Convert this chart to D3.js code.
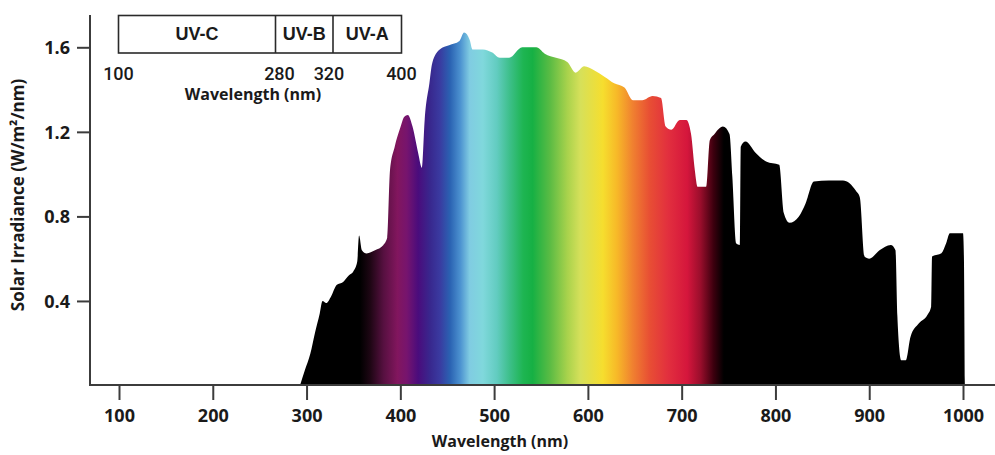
<!DOCTYPE html>
<html>
<head>
<meta charset="utf-8">
<script src="https://cdn.jsdelivr.net/npm/d3@7/dist/d3.min.js"></script>
<style>
  html, body { margin: 0; padding: 0; background: #fff; }
  svg { display: block; }
  .lbl { font-family: "Open Sans", "DejaVu Sans", sans-serif; font-weight: 700; fill: #1a1a1a; }
  .box { font-family: "Liberation Sans", Arial, sans-serif; fill: #1a1a1a; }
  .num { font-family: Roboto, "Liberation Sans", Arial, sans-serif; fill: #1a1a1a; }
</style>
</head>
<body>
<svg id="chart" width="995" height="455"></svg>
<script>
// Solar spectral irradiance at sea level (W/m²/nm) by wavelength (nm)
const wavelengths = [
  293, 298, 304, 309, 314, 317, 321, 326, 332, 339, 345, 350, 354, 356, 359, 364,
  373, 382, 386, 389, 394, 400, 404, 408, 413, 419, 423, 426, 431, 434, 442, 452,
  463, 468, 474, 477, 488, 498, 506, 516, 530, 545, 554, 566, 578, 587, 596, 607,
  618, 628, 639, 648, 658, 669, 678, 683, 689, 698, 705, 710, 714, 717, 726, 730,
  735, 744, 751, 754, 758, 762, 763, 768, 779, 790, 804, 809, 815, 825, 832, 841,
  857, 872, 886, 890, 895, 900, 911, 923, 928, 930, 934, 939, 944, 953, 962, 966,
  967, 977, 982, 986, 1000, 1001, 1002
];
const irradiance = [
  0.00, 0.07, 0.15, 0.25, 0.34, 0.40, 0.39, 0.42, 0.475, 0.49, 0.52, 0.54, 0.585, 0.71, 0.64, 0.625,
  0.64, 0.665, 0.70, 1.02, 1.13, 1.22, 1.27, 1.28, 1.225, 1.10, 1.03, 1.26, 1.43, 1.525, 1.59, 1.61,
  1.63, 1.67, 1.635, 1.59, 1.59, 1.575, 1.55, 1.55, 1.60, 1.60, 1.57, 1.55, 1.53, 1.48, 1.51, 1.49,
  1.46, 1.43, 1.41, 1.35, 1.35, 1.37, 1.36, 1.225, 1.21, 1.256, 1.256, 1.19, 1.02, 0.94, 0.94, 1.16,
  1.19, 1.225, 1.19, 0.99, 0.673, 0.665, 1.13, 1.154, 1.10, 1.06, 1.044, 0.815, 0.77, 0.80, 0.86, 0.965,
  0.97, 0.97, 0.92, 0.89, 0.61, 0.60, 0.64, 0.665, 0.64, 0.33, 0.12, 0.12, 0.23, 0.294, 0.334, 0.373,
  0.61, 0.626, 0.673, 0.72, 0.72, 0.60, 0.00
];

// Axis ticks
const xTicks = [100, 200, 300, 400, 500, 600, 700, 800, 900, 1000];
const yTicks = [0.4, 0.8, 1.2, 1.6];

// UV band inset
const bandNames = ["UV-C", "UV-B", "UV-A"];
const bandEdges = [100, 280, 320, 400];

// Visible-spectrum colour ramp (wavelength nm -> colour)
const rampNm = [357, 368, 382, 397, 407, 419, 432, 442, 453, 464, 474, 488, 503, 517, 531, 541,
                560, 578, 592, 616, 631, 648, 666, 685, 706, 720, 734, 745];
const rampColor = ["#000000", "#1e0614", "#561040", "#82165e", "#76146e", "#4a0c7c", "#38288e", "#3a3aa0",
                   "#2a62b2", "#4c92d0", "#80cce2", "#80d8dc", "#62ccc0", "#3cbf88", "#1eb552", "#16b044",
                   "#5cbc44", "#a8d24c", "#d6e05a", "#f6de2e", "#f7b928", "#f08030", "#e84e34", "#e2303e",
                   "#d5163c", "#9a0e2c", "#3c000e", "#000000"];

const svg = d3.select("#chart");
const W = 995, H = 455;
svg.append("rect").attr("width", W).attr("height", H).attr("fill", "#fff");

const x = d3.scaleLinear().domain([100, 1000]).range([119, 963]);
const y = d3.scaleLinear().domain([0, 1.6]).range([385.5, 47.3]);
const axisX = 90, axisY = 385;
const axisColor = "#3c3c3c";

// gradient running along the wavelength axis
const defs = svg.append("defs");
const grad = defs.append("linearGradient")
  .attr("id", "spectrum")
  .attr("gradientUnits", "userSpaceOnUse")
  .attr("x1", x(rampNm[0])).attr("x2", x(rampNm[rampNm.length - 1]))
  .attr("y1", 0).attr("y2", 0);
const span = rampNm[rampNm.length - 1] - rampNm[0];
grad.selectAll("stop")
  .data(rampNm)
  .join("stop")
  .attr("offset", d => (d - rampNm[0]) / span)
  .attr("stop-color", (d, i) => rampColor[i]);

const series = wavelengths.map((nm, i) => ({ nm, v: irradiance[i] }));
const area = d3.area()
  .x(d => x(d.nm))
  .y0(y(0))
  .y1(d => y(d.v))
  .curve(d3.curveMonotoneX);

svg.append("path")
  .datum(series)
  .attr("d", area)
  .attr("fill", "url(#spectrum)");

// x axis
const gx = svg.append("g").attr("transform", `translate(0,${axisY})`);
gx.call(d3.axisBottom(x).tickValues(xTicks).tickSize(15).tickSizeOuter(0).tickFormat(d3.format("d")));
gx.select(".domain").remove();
gx.selectAll(".tick line").attr("stroke", axisColor).attr("stroke-width", 2);
gx.selectAll(".tick text")
  .attr("class", "lbl")
  .attr("font-size", 18)
  .attr("y", 37)
  .attr("dy", 0);
svg.append("line")
  .attr("x1", axisX).attr("x2", W)
  .attr("y1", axisY).attr("y2", axisY)
  .attr("stroke", axisColor).attr("stroke-width", 2);

// y axis
const gy = svg.append("g").attr("transform", `translate(${axisX},0)`);
gy.call(d3.axisLeft(y).tickValues(yTicks).tickSize(13).tickSizeOuter(0).tickFormat(d3.format(".1f")));
gy.select(".domain").remove();
gy.selectAll(".tick line").attr("stroke", axisColor).attr("stroke-width", 2);
gy.selectAll(".tick text")
  .attr("class", "lbl")
  .attr("font-size", 18)
  .attr("x", -20)
  .attr("dy", "0.36em");
svg.append("line")
  .attr("x1", axisX).attr("x2", axisX)
  .attr("y1", 15).attr("y2", axisY + 1)
  .attr("stroke", axisColor).attr("stroke-width", 2);

// axis titles
svg.append("text")
  .attr("class", "lbl")
  .attr("x", 500).attr("y", 447)
  .attr("text-anchor", "middle")
  .attr("font-size", 16)
  .text("Wavelength (nm)");
svg.append("text")
  .attr("class", "lbl")
  .attr("transform", "translate(24,195) rotate(-90)")
  .attr("text-anchor", "middle")
  .attr("font-size", 17)
  .text("Solar Irradiance (W/m²/nm)");

// UV band inset
const band = d3.scaleLinear().domain(bandEdges).range([118.5, 275.5, 333, 401.5]);
const edgeNudge = [0, 4, -4, 0]; // pull the two middle numbers apart from the dividers
const boxTop = 15.5, boxBottom = 53;
const inset = svg.append("g");
inset.append("rect")
  .attr("x", band(bandEdges[0])).attr("y", boxTop)
  .attr("width", band(bandEdges[3]) - band(bandEdges[0]))
  .attr("height", boxBottom - boxTop)
  .attr("fill", "#fff").attr("stroke", "#2a2a2a").attr("stroke-width", 1.6);
inset.selectAll("line.div")
  .data(bandEdges.slice(1, -1))
  .join("line")
  .attr("class", "div")
  .attr("x1", d => band(d)).attr("x2", d => band(d))
  .attr("y1", boxTop).attr("y2", boxBottom)
  .attr("stroke", "#2a2a2a").attr("stroke-width", 1.6);
inset.selectAll("text.band")
  .data(bandNames)
  .join("text")
  .attr("class", "box band")
  .attr("x", (d, i) => (band(bandEdges[i]) + band(bandEdges[i + 1])) / 2)
  .attr("y", 40)
  .attr("text-anchor", "middle")
  .attr("font-size", 18)
  .attr("font-weight", 700)
  .text(d => d);
inset.selectAll("text.edge")
  .data(bandEdges)
  .join("text")
  .attr("class", "num edge")
  .attr("x", (d, i) => band(d) + edgeNudge[i])
  .attr("y", 80)
  .attr("text-anchor", "middle")
  .attr("font-size", 18)
  .attr("font-weight", 500)
  .text(d => d);
inset.append("text")
  .attr("class", "lbl")
  .attr("x", 253).attr("y", 100)
  .attr("text-anchor", "middle")
  .attr("font-size", 16)
  .text("Wavelength (nm)");
</script>
</body>
</html>
